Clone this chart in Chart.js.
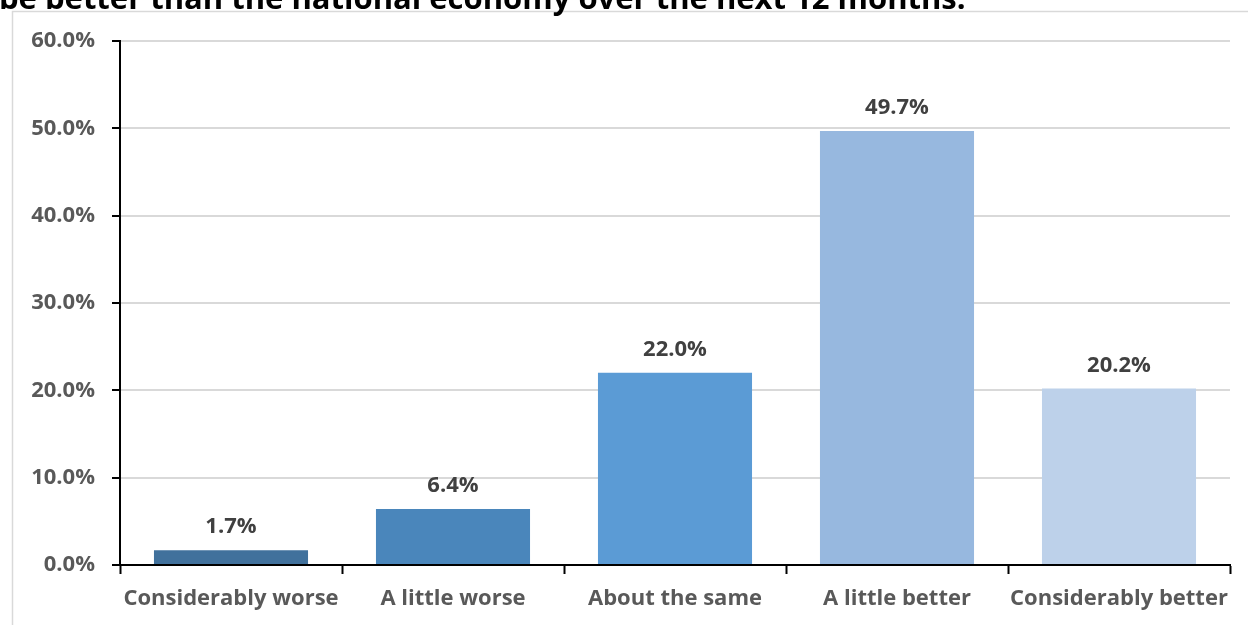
<!DOCTYPE html>
<html>
<head>
<meta charset="utf-8">
<script src="https://cdn.jsdelivr.net/npm/chart.js@4/dist/chart.umd.min.js"></script>
<style>
  html, body { margin: 0; padding: 0; background: #fff; }
  #wrap { width: 1248px; height: 625px; position: relative; }
</style>
</head>
<body>
<div id="wrap"><canvas id="bar-chart" width="1248" height="625"></canvas></div>
<script>
var titleText = "be better than the national economy over the next 12 months.";
var categories = ["Considerably worse", "A little worse", "About the same", "A little better", "Considerably better"];
var shares = [1.7, 6.4, 22.0, 49.7, 20.2];
var barColors = ["#41719C", "#4A86BB", "#5B9BD5", "#97B8DF", "#BDD1EA"];
var yTicks = [0, 10, 20, 30, 40, 50, 60];

var FONT = "'Open Sans', sans-serif";

// frame lines and the (clipped) heading above the plot
var framePlugin = {
  id: 'frame',
  beforeDraw: function (chart) {
    var ctx = chart.ctx;
    ctx.save();
    ctx.strokeStyle = '#D9D9D9';
    ctx.lineWidth = 1.5;
    ctx.beginPath();
    ctx.moveTo(12.5, chart.height);
    ctx.lineTo(12.5, 11.5);
    ctx.lineTo(chart.width, 11.5);
    ctx.stroke();
    ctx.fillStyle = '#000';
    ctx.font = 'bold 31px ' + FONT;
    ctx.textBaseline = 'alphabetic';
    ctx.fillText(titleText, -1, 9);
    ctx.restore();
  }
};

// value labels above each bar
var valueLabels = {
  id: 'valueLabels',
  afterDatasetsDraw: function (chart) {
    var ctx = chart.ctx;
    var meta = chart.getDatasetMeta(0);
    ctx.save();
    ctx.fillStyle = '#404040';
    ctx.font = 'bold 22px ' + FONT;
    ctx.textAlign = 'center';
    ctx.textBaseline = 'bottom';
    meta.data.forEach(function (bar, i) {
      ctx.fillText(shares[i].toFixed(1) + '%', bar.x, bar.y - 12);
    });
    ctx.restore();
  }
};

new Chart(document.getElementById("bar-chart"), {
  type: 'bar',
  data: {
    labels: categories,
    datasets: [{
      data: shares,
      backgroundColor: barColors,
      borderWidth: 0,
      barPercentage: 0.694,
      categoryPercentage: 1.0
    }]
  },
  options: {
    responsive: false,
    animation: false,
    layout: { padding: { left: 0, right: 18, top: 41, bottom: 0 } },
    plugins: {
      legend: { display: false },
      tooltip: { enabled: false },
      title: { display: false }
    },
    scales: {
      x: {
        grid: {
          offset: true,
          drawOnChartArea: false,
          drawTicks: true,
          tickLength: 9,
          tickColor: '#000',
          tickWidth: 2
        },
        border: { color: '#000', width: 2 },
        ticks: {
          color: '#595959',
          font: { family: FONT, size: 22, weight: 'bold' },
          padding: 12,
          maxRotation: 0,
          autoSkip: false
        },
        afterFit: function (scale) { scale.height = 60; }
      },
      y: {
        min: 0,
        max: 60,
        afterBuildTicks: function (scale) {
          scale.ticks = yTicks.map(function (v) { return { value: v }; });
        },
        grid: {
          color: '#D9D9D9',
          lineWidth: 2,
          drawTicks: true,
          tickLength: 8,
          tickColor: '#000',
          tickWidth: 2
        },
        border: { color: '#000', width: 2 },
        ticks: {
          color: '#595959',
          font: { family: FONT, size: 22, weight: 'bold' },
          padding: 17,
          callback: function (v) { return v.toFixed(1) + '%'; }
        },
        afterFit: function (scale) { scale.width = 120; }
      }
    }
  },
  plugins: [framePlugin, valueLabels]
});
</script>
</body>
</html>
